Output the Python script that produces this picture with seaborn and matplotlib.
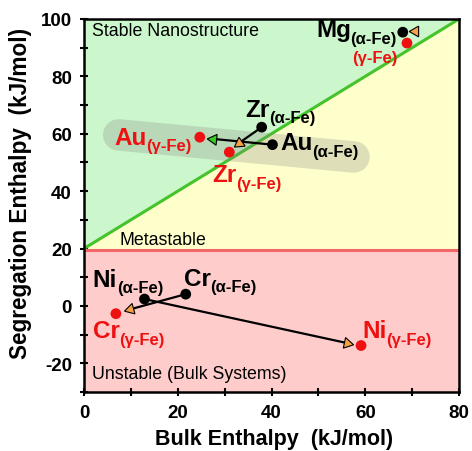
import numpy as np
import pandas as pd
import matplotlib
matplotlib.use("Agg")
import matplotlib.pyplot as plt
from matplotlib.ticker import MultipleLocator
import seaborn as sns

# Solute data: bulk mixing enthalpy vs. grain-boundary segregation enthalpy (kJ/mol)
solutes = ["Mg", "Zr", "Au", "Ni", "Cr"]
bulk_alpha = [68.0, 37.9, 40.2, 12.9, 21.7]
seg_alpha = [95.4, 62.3, 56.2, 2.4, 4.1]
bulk_gamma = [68.9, 31.0, 24.7, 59.1, 6.8]
seg_gamma = [91.6, 53.6, 58.8, -13.8, -2.7]

# End points of the alpha -> gamma shifts
tip_bulk = [70.6, 33.1, 27.6, 56.0, 9.8]
tip_seg = [95.9, 56.8, 58.2, -12.9, -1.2]
show_path = [False, True, True, True, True]
fixed_heading = {"Mg": 180.0}

# Stability map boundaries
stable_slope = 1.0
stable_intercept = 20.0
unstable_limit = 19.4

# Highlighted Au/Zr pair (ends of the shaded capsule)
band_bulk = [7.4, 57.6]
band_seg = [59.6, 51.9]

x_ticks = [0, 20, 40, 60, 80]
y_ticks = [-20, 0, 20, 40, 60, 80, 100]

# Point labels: (main, subscript, colour key, x, baseline y)
labels = [
    ("Mg", "(α-Fe)", "alpha", 49.5, 94.0),
    ("", "(γ-Fe)", "gamma", 57.3, 84.9),
    ("Zr", "(α-Fe)", "alpha", 34.5, 66.3),
    ("Au", "(α-Fe)", "alpha", 41.8, 54.6),
    ("Au", "(γ-Fe)", "gamma", 6.4, 56.4),
    ("Zr", "(γ-Fe)", "gamma", 27.4, 43.4),
    ("Ni", "(α-Fe)", "alpha", 1.85, 7.1),
    ("Cr", "(α-Fe)", "alpha", 21.3, 7.3),
    ("Cr", "(γ-Fe)", "gamma", 1.85, -10.9),
    ("Ni", "(γ-Fe)", "gamma", 59.4, -10.9),
]

BLACK = "#000000"
RED = "#EE1111"
ORANGE = "#F5A245"
LIME = "#33CC22"
colors = {"alpha": BLACK, "gamma": RED}
tip_colors = [ORANGE, ORANGE, LIME, ORANGE, ORANGE]

sns.set_theme(style="white")
plt.rcParams["font.family"] = ["Liberation Sans", "DejaVu Sans"]
plt.rcParams["axes.unicode_minus"] = False
plt.rcParams["text.color"] = BLACK
plt.rcParams["axes.labelcolor"] = BLACK
plt.rcParams["xtick.color"] = BLACK
plt.rcParams["ytick.color"] = BLACK

fig = plt.figure(figsize=(4.72, 4.52), dpi=100)
ax = fig.add_axes([0.178, 0.1305, 0.7945, 0.8253])
ax.set_xlim(0, 80)
ax.set_ylim(-30, 100)

# Stability regions
xs = np.array([0.0, 80.0])
line = stable_slope * xs + stable_intercept
ax.fill_between(xs, line, 100, color="#CCF7CC", lw=0, zorder=0)
ax.fill_between(xs, unstable_limit, line, color="#FFFFCC", lw=0, zorder=0)
ax.axhspan(-30, unstable_limit, color="#FFCCCC", lw=0, zorder=0)
ax.plot(xs, line, color="#44C42A", lw=2.2, zorder=1)
ax.axhline(unstable_limit, color="#F06868", lw=2.2, zorder=1)

ax.text(1.6, 95.9, "Stable Nanostructure", fontsize=12.8, va="center", ha="left")
ax.text(7.5, 23.1, "Metastable", fontsize=12.8, va="center", ha="left")
ax.text(1.6, -23.7, "Unstable (Bulk Systems)", fontsize=12.8, va="center", ha="left")

# Shaded capsule around the Au / Zr pair
ax.plot(band_bulk, band_seg, color="#808080", alpha=0.26, lw=22.7,
        solid_capstyle="round", zorder=2)

# Shift paths
for i, name in enumerate(solutes):
    if show_path[i]:
        ax.plot([bulk_alpha[i], tip_bulk[i]], [seg_alpha[i], tip_seg[i]],
                color=BLACK, lw=1.6, zorder=3)

# Solute positions in both iron phases
df = pd.DataFrame({
    "bulk": bulk_alpha + bulk_gamma,
    "seg": seg_alpha + seg_gamma,
    "phase": ["alpha"] * len(solutes) + ["gamma"] * len(solutes),
})
sns.scatterplot(data=df, x="bulk", y="seg", hue="phase", palette=colors,
                s=60, linewidth=0, legend=False, ax=ax, zorder=5)

# Arrow heads, oriented along each path in screen space
for i, name in enumerate(solutes):
    if name in fixed_heading:
        heading = fixed_heading[name]
    else:
        p0 = ax.transData.transform((bulk_alpha[i], seg_alpha[i]))
        p1 = ax.transData.transform((tip_bulk[i], tip_seg[i]))
        heading = np.degrees(np.arctan2(p1[1] - p0[1], p1[0] - p0[0]))
    ax.plot(tip_bulk[i], tip_seg[i], marker=(3, 0, heading - 90), ms=9,
            mfc=tip_colors[i], mec=BLACK, mew=0.8, ls="none", zorder=4)

# Labels with phase subscripts
for main, sub, key, lx, ly in labels:
    c = colors[key]
    if main:
        t = ax.text(lx, ly, main, color=c, fontsize=17.5, fontweight="bold",
                    ha="left", va="baseline", zorder=6)
        ax.annotate(sub, xy=(1, ly), xycoords=(t, "data"), xytext=(-0.3, -4.6),
                    textcoords="offset points", color=c, fontsize=12,
                    fontweight="bold", ha="left", va="baseline", zorder=6)
    else:
        ax.text(lx, ly, sub, color=c, fontsize=12, fontweight="bold",
                ha="left", va="baseline", zorder=6)

# Axes styling
ax.set_xticks(x_ticks)
ax.set_yticks(y_ticks)
ax.xaxis.set_minor_locator(MultipleLocator(10))
ax.yaxis.set_minor_locator(MultipleLocator(10))
ax.tick_params(which="both", direction="inout", length=5.5, width=1.5,
               colors=BLACK, bottom=True, left=True, top=False, right=False)
ax.tick_params(which="major", labelsize=13.5, pad=6)
for lab in ax.get_xticklabels() + ax.get_yticklabels():
    lab.set_fontweight("bold")
for sp in ax.spines.values():
    sp.set_color(BLACK)
    sp.set_linewidth(1.8)

ax.set_xlabel("Bulk Enthalpy  (kJ/mol)", fontsize=15.5, fontweight="bold")
ax.set_ylabel("Segregation Enthalpy  (kJ/mol)", fontsize=16.3, fontweight="bold")
ax.xaxis.set_label_coords(0.507, -0.097)
ax.yaxis.set_label_coords(-0.14, 0.535)

fig.savefig("out.png", dpi=100, facecolor="white")
